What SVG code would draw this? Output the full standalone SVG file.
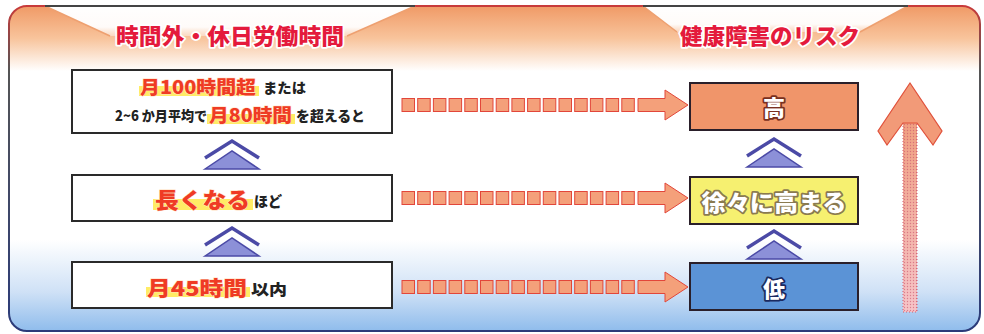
<svg xmlns="http://www.w3.org/2000/svg" width="984" height="334" viewBox="0 0 984 334">
<style>
.jp{font-family:"Noto Sans CJK JP","Noto Sans CJK SC",sans-serif;font-weight:900}
.title{fill:#e41a3c;stroke:#fff;stroke-width:3.5;paint-order:stroke;stroke-linejoin:round;font-size:22px}
.red{fill:#ef3b24;stroke:#ffe0c0;stroke-width:1;paint-order:stroke}
.blk{fill:#222}
.hl{fill:#ffe94a;opacity:0.85}
.lbox{fill:#fff;stroke:#2a2a2a;stroke-width:2}
.rbox{stroke:#2a1f2a;stroke-width:2}
.wt{fill:#fff;stroke-width:3.5;paint-order:stroke;stroke-linejoin:round;text-anchor:middle}
</style>
<defs>
<linearGradient id="bg" x1="0" y1="0" x2="0" y2="1">
<stop offset="0" stop-color="#f09a66"/>
<stop offset="0.1" stop-color="#f8c49c"/>
<stop offset="0.2" stop-color="#fff"/>
<stop offset="0.72" stop-color="#fff"/>
<stop offset="0.88" stop-color="#cfe1f6"/>
<stop offset="1" stop-color="#8fbcec"/>
</linearGradient>
<linearGradient id="bd" x1="0" y1="0" x2="0" y2="1">
<stop offset="0" stop-color="#c83a3a"/>
<stop offset="0.2" stop-color="#555"/>
<stop offset="1" stop-color="#2b3b7a"/>
</linearGradient>
<linearGradient id="notch" x1="0" y1="0" x2="0" y2="1">
<stop offset="0" stop-color="#fff" stop-opacity="1"/>
<stop offset="0.7" stop-color="#fff" stop-opacity="0.95"/>
<stop offset="1" stop-color="#fff" stop-opacity="0.4"/>
</linearGradient>
<linearGradient id="shaft" x1="0" y1="0" x2="0" y2="1">
<stop offset="0" stop-color="#f0a080"/>
<stop offset="1" stop-color="#f6c4c8"/>
</linearGradient>
<pattern id="dots" width="3" height="3" patternUnits="userSpaceOnUse">
<circle cx="1.5" cy="1.5" r="0.7" fill="#c8506a" opacity="0.6"/>
</pattern>
<g id="chev">
<polyline points="-27,17 0,0 27,17" fill="none" stroke="#4b4aa6" stroke-width="3.5"/>
<polygon points="-27,28 0,10 27,28" fill="#8c90d8" stroke="#4b4aa6" stroke-width="1.5"/>
</g>
<g id="darr">
<g fill="#f4a07a" stroke="#e2463a" stroke-width="1">
<rect x="402" y="-6.5" width="12.5" height="13"/>
<rect x="417.7" y="-6.5" width="12.5" height="13"/>
<rect x="433.4" y="-6.5" width="12.5" height="13"/>
<rect x="449.1" y="-6.5" width="12.5" height="13"/>
<rect x="464.8" y="-6.5" width="12.5" height="13"/>
<rect x="480.5" y="-6.5" width="12.5" height="13"/>
<rect x="496.2" y="-6.5" width="12.5" height="13"/>
<rect x="511.9" y="-6.5" width="12.5" height="13"/>
<rect x="527.6" y="-6.5" width="12.5" height="13"/>
<rect x="543.3" y="-6.5" width="12.5" height="13"/>
<rect x="559" y="-6.5" width="12.5" height="13"/>
<rect x="574.7" y="-6.5" width="12.5" height="13"/>
<rect x="590.4" y="-6.5" width="12.5" height="13"/>
<rect x="606.1" y="-6.5" width="12.5" height="13"/>
<rect x="621.8" y="-6.5" width="12.5" height="13"/>
<polygon points="638,-6.5 665,-6.5 665,-15 688,0 665,15 665,6.5 638,6.5"/>
</g>
</g>
</defs>

<g id="frame">
<rect x="9" y="6" width="971" height="325" rx="18" fill="url(#bg)" stroke="url(#bd)" stroke-width="2"/>
<polygon points="45,6 110,36 347,36 415,6" fill="url(#notch)"/>
<polyline points="45,6 110,36" fill="none" stroke="#eea070" stroke-width="1.5"/>
<polyline points="347,36 415,6" fill="none" stroke="#eea070" stroke-width="1.5"/>
<polygon points="643,6 677,32 860,32 908,6" fill="url(#notch)"/>
<polyline points="643,6 677,32" fill="none" stroke="#eea070" stroke-width="1.5"/>
<polyline points="860,32 908,6" fill="none" stroke="#eea070" stroke-width="1.5"/>
<line x1="45" y1="6" x2="415" y2="6" stroke="#444" stroke-width="2"/>
<line x1="643" y1="6" x2="908" y2="6" stroke="#444" stroke-width="2"/>
</g>

<g id="titles" class="jp">
<text class="title" x="116" y="44" textLength="228" lengthAdjust="spacingAndGlyphs">時間外・休日労働時間</text>
<text class="title" x="680" y="44" textLength="180" lengthAdjust="spacingAndGlyphs">健康障害のリスク</text>
</g>

<g id="box-100h" class="jp">
<rect class="lbox" x="72" y="70" width="320" height="63"/>
<rect class="hl" x="139" y="86" width="120" height="10"/>
<text class="red" x="140" y="94" font-size="18" textLength="116" lengthAdjust="spacingAndGlyphs">月100時間超</text>
<text class="blk" x="263" y="93" font-size="14" textLength="43" lengthAdjust="spacingAndGlyphs">または</text>
<text class="blk" x="115" y="121" font-size="14" textLength="92" lengthAdjust="spacingAndGlyphs">2~6 か月平均で</text>
<rect class="hl" x="207" y="114" width="88" height="10"/>
<text class="red" x="209" y="122" font-size="18" textLength="83" lengthAdjust="spacingAndGlyphs">月80時間</text>
<text class="blk" x="296" y="121" font-size="14" textLength="69" lengthAdjust="spacingAndGlyphs">を超えると</text>
</g>

<g id="box-long" class="jp">
<rect class="lbox" x="72" y="175" width="320" height="46"/>
<rect class="hl" x="153" y="199" width="100" height="11"/>
<text class="red" x="155" y="208" font-size="22" textLength="95" lengthAdjust="spacingAndGlyphs">長くなる</text>
<text class="blk" x="254" y="207" font-size="15" textLength="28" lengthAdjust="spacingAndGlyphs">ほど</text>
</g>

<g id="box-45h" class="jp">
<rect class="lbox" x="72" y="262" width="320" height="46"/>
<rect class="hl" x="146" y="287" width="104" height="10"/>
<text class="red" x="147" y="296" font-size="20" textLength="100" lengthAdjust="spacingAndGlyphs">月45時間</text>
<text class="blk" x="251" y="295" font-size="15" textLength="36" lengthAdjust="spacingAndGlyphs">以内</text>
</g>

<g id="risk-high" class="jp">
<rect class="rbox" x="690" y="83" width="168" height="47" fill="#f0956a"/>
<text class="wt" x="774" y="116" font-size="22" stroke="#7a3020">高</text>
</g>

<g id="risk-mid" class="jp">
<rect class="rbox" x="690" y="177" width="168" height="47" fill="#f6f070"/>
<text class="wt" x="774" y="211" font-size="23" stroke="#8a7a50" textLength="145" lengthAdjust="spacingAndGlyphs">徐々に高まる</text>
</g>

<g id="risk-low" class="jp">
<rect class="rbox" x="690" y="263" width="168" height="47" fill="#5b93d6"/>
<text class="wt" x="774" y="297" font-size="22" stroke="#1a2a60">低</text>
</g>

<g id="connectors">
<use href="#chev" transform="translate(232,141)"/>
<use href="#chev" transform="translate(232,228)"/>
<use href="#chev" transform="translate(774,139)"/>
<use href="#chev" transform="translate(774,231)"/>
<use href="#darr" transform="translate(0,105)"/>
<use href="#darr" transform="translate(0,198)"/>
<use href="#darr" transform="translate(0,287)"/>
</g>

<g id="big-arrow">
<rect x="903" y="120" width="14" height="192" fill="url(#shaft)"/>
<rect x="903" y="120" width="14" height="192" fill="url(#dots)" stroke="#d05a70" stroke-width="1" stroke-dasharray="1 2"/>
<polygon points="910,83 942,131 933,145 917,123 903,123 887,145 878,131" fill="#f29a78" stroke="#e0503a" stroke-width="1.2"/>
</g>
</svg>
